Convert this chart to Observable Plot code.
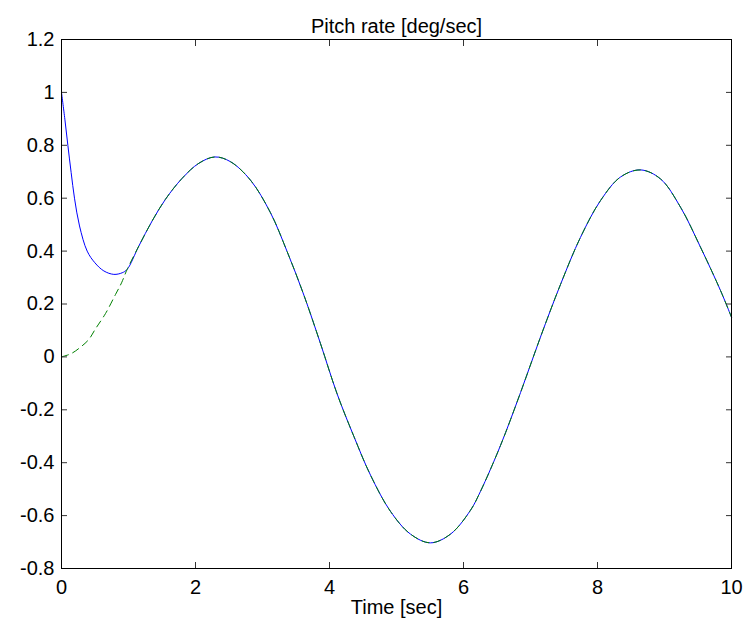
<!DOCTYPE html>
<html>
<head>
<meta charset="utf-8">
<script src="https://cdn.jsdelivr.net/npm/d3@7"></script>
<script src="https://cdn.jsdelivr.net/npm/@observablehq/plot@0.6"></script>
<style>
  html, body { margin: 0; padding: 0; background: white; }
</style>
</head>
<body>
<div id="chart"></div>
<script>
// Shared response after the transient (both series coincide)
const sharedT = [0.98, 1.154, 1.353, 1.552, 1.80, 2.05, 2.29, 2.522, 2.821, 3.119, 3.368, 3.617, 3.866, 4.114, 4.363, 4.612, 4.910, 5.209, 5.507, 5.806, 6.104, 6.254, 6.552, 6.851, 7.149, 7.448, 7.746, 8.045, 8.343, 8.642, 8.940, 9.239, 9.537, 9.836, 10.0];
const sharedY = [0.331, 0.419, 0.514, 0.596, 0.675, 0.732, 0.756, 0.738, 0.668, 0.545, 0.398, 0.234, 0.050, -0.14, -0.300, -0.447, -0.584, -0.670, -0.703, -0.670, -0.580, -0.508, -0.335, -0.135, 0.075, 0.274, 0.452, 0.591, 0.680, 0.707, 0.673, 0.566, 0.415, 0.251, 0.150];

// Blue (solid) initial transient
const blueT = [0, 0.05, 0.095, 0.144, 0.194, 0.269, 0.383, 0.498, 0.632, 0.781, 0.905];
const blueY = [1.0, 0.899, 0.80, 0.697, 0.60, 0.495, 0.40, 0.356, 0.325, 0.312, 0.318];

// Green (dashed) initial transient
const greenT = [0, 0.149, 0.299, 0.408, 0.507, 0.657, 0.806, 0.896];
const greenY = [0, 0.013, 0.040, 0.066, 0.106, 0.164, 0.236, 0.280];

const xTicks = [0, 2, 4, 6, 8, 10];
const yTicks = [-0.8, -0.6, -0.4, -0.2, 0, 0.2, 0.4, 0.6, 0.8, 1, 1.2];
const titleText = "Pitch rate [deg/sec]";
const xLabelText = "Time [sec]";

const blue = blueT.map((t, i) => ({t, y: blueY[i]})).concat(sharedT.map((t, i) => ({t, y: sharedY[i]})));
const green = greenT.map((t, i) => ({t, y: greenY[i]})).concat(sharedT.map((t, i) => ({t, y: sharedY[i]})));

const fmt = d => String(d);

const chart = Plot.plot({
  width: 747,
  height: 630,
  marginLeft: 61,
  marginRight: 16,
  marginTop: 39,
  marginBottom: 62,
  style: {fontSize: "20px", fontFamily: "'Liberation Sans', Arial, sans-serif", background: "white", color: "black", overflow: "visible"},
  x: {domain: [0, 10]},
  y: {domain: [-0.8, 1.2]},
  marks: [
    Plot.line(blue, {x: "t", y: "y", stroke: "#0000ff", strokeWidth: 1, curve: "catmull-rom"}),
    Plot.line(green, {x: "t", y: "y", stroke: "#008000", strokeWidth: 1, strokeDasharray: "7,5", curve: "catmull-rom"}),
    Plot.axisX({anchor: "bottom", ticks: xTicks, tickSize: -6, tickPadding: 17, tickFormat: fmt, label: null, stroke: "#333", fontSize: 20}),
    Plot.axisX({anchor: "top", ticks: xTicks, tickSize: -6, tickFormat: () => "", label: null, stroke: "#333"}),
    Plot.axisY({anchor: "left", ticks: yTicks, tickSize: -6, tickPadding: 13, tickFormat: fmt, label: null, stroke: "#333", fontSize: 20}),
    Plot.axisY({anchor: "right", ticks: yTicks, tickSize: -6, tickFormat: () => "", label: null, stroke: "#333"}),
    Plot.frame({stroke: "black", strokeWidth: 1}),
    Plot.text([titleText], {frameAnchor: "top", dy: -21, fontSize: 20, fill: "black"}),
    Plot.text([xLabelText], {frameAnchor: "bottom", dy: 45, fontSize: 20, fill: "black"})
  ]
});
document.getElementById("chart").appendChild(chart);
</script>
</body>
</html>
